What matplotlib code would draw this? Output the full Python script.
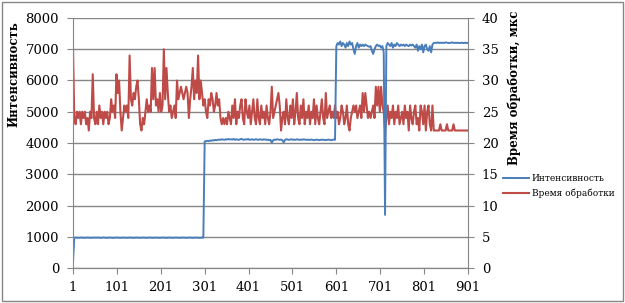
import numpy as np
import matplotlib
matplotlib.use("Agg")
import matplotlib.pyplot as plt
from matplotlib.patches import Rectangle

# sample numbers (every 3rd sample)
samples = np.arange(1, 902, 3)

# intensity, left axis
intensity = [
    200, 970, 975, 970, 965, 970, 975, 970, 970, 965, 970, 975, 970, 970, 965, 970, 975, 970, 970, 975,
    970, 965, 970, 975, 970, 970, 965, 970, 975, 970, 970, 965, 970, 975, 970, 970, 965, 970, 975, 970,
    970, 965, 970, 975, 970, 970, 965, 970, 975, 970, 970, 965, 970, 975, 970, 970, 965, 970, 975, 970,
    970, 965, 970, 975, 970, 970, 965, 970, 975, 970, 970, 965, 970, 975, 970, 970, 965, 970, 975, 970,
    970, 965, 970, 975, 970, 970, 965, 970, 975, 970, 970, 965, 970, 975, 970, 970, 965, 970, 975, 970,
    4050, 4060, 4070, 4060, 4080, 4070, 4090, 4080, 4100, 4090, 4100, 4110, 4100, 4120, 4110, 4100, 4120, 4110, 4130, 4110,
    4120, 4110, 4130, 4100, 4120, 4110, 4100, 4120, 4130, 4110, 4100, 4120, 4110, 4130, 4100, 4110, 4120, 4100, 4110, 4120,
    4110, 4100, 4120, 4110, 4100, 4120, 4110, 4100, 4110, 4090, 4100, 4010, 4090, 4110, 4100, 4120, 4110, 4100, 4110, 4090,
    4020, 4100, 4120, 4110, 4100, 4110, 4120, 4100, 4110, 4100, 4120, 4110, 4100, 4110, 4100, 4120, 4110, 4100, 4110, 4100,
    4100, 4110, 4100, 4090, 4100, 4110, 4100, 4090, 4100, 4110, 4100, 4100, 4090, 4100, 4110, 4100, 4090, 4100, 4110, 4100,
    7100, 7200, 7150, 7250, 7100, 7200, 7150, 7050, 7200, 7100, 7250, 7150, 7200, 7000, 6850, 7100, 7200, 7050, 7150, 7100,
    7150, 7100, 7150, 7120, 7100, 7080, 7100, 6950, 6850, 7000, 7100, 7150, 7100, 7120, 7050, 7100, 6900, 1700, 7100, 7200,
    7150, 7100, 7200, 7050, 7150, 7100, 7200, 7150, 7100, 7150, 7120, 7150, 7100, 7150, 7120, 7100, 7150, 7120, 7150, 7100,
    7050, 7150, 6950, 7100, 7000, 7150, 6900, 7100, 7150, 7000, 6950, 7100, 6900, 7150, 7200, 7210, 7200, 7220, 7200, 7210,
    7200, 7210, 7200, 7220, 7210, 7200, 7200, 7210, 7220, 7200, 7210, 7200, 7210, 7200, 7200, 7210, 7200, 7200, 7210, 7200,
    7200,
]

# processing time, us, right axis
proc_time = [
    35, 24, 23, 25, 24, 25, 23, 25, 24, 25, 23, 24, 22, 25, 24, 31, 24, 23, 25, 23,
    26, 24, 25, 23, 25, 24, 25, 23, 24, 27, 25, 26, 24, 31, 28, 30, 25, 22, 24, 26,
    25, 26, 24, 34, 27, 26, 28, 27, 29, 30, 27, 23, 22, 24, 23, 25, 27, 25, 26, 25,
    32, 27, 32, 26, 27, 25, 28, 25, 26, 35, 27, 32, 28, 25, 26, 24, 25, 26, 24, 30,
    27, 28, 29, 28, 27, 28, 29, 28, 24, 27, 29, 32, 27, 30, 28, 34, 27, 30, 28, 26,
    27, 25, 24, 27, 26, 28, 27, 25, 26, 28, 26, 27, 24, 23, 24, 23, 24, 23, 25, 24,
    23, 26, 24, 27, 23, 25, 24, 26, 27, 24, 23, 27, 25, 24, 26, 23, 25, 27, 24, 23,
    27, 24, 23, 26, 24, 25, 23, 26, 24, 23, 25, 29, 24, 25, 26, 27, 28, 26, 22, 24,
    25, 23, 27, 24, 23, 26, 24, 27, 23, 25, 28, 24, 23, 26, 24, 27, 23, 25, 24, 26,
    23, 25, 24, 27, 23, 26, 24, 23, 25, 27, 24, 23, 28, 24, 25, 26, 24, 25, 24, 26,
    24, 25, 23, 24, 26, 25, 23, 24, 26, 23, 22, 24, 25, 26, 25, 26, 24, 25, 26, 24,
    28, 25, 28, 26, 24, 25, 24, 25, 26, 24, 29, 26, 29, 25, 29, 26, 25, 22, 24, 26,
    23, 25, 24, 26, 23, 25, 24, 26, 23, 24, 25, 23, 26, 24, 25, 22, 26, 24, 23, 25,
    26, 23, 24, 22, 26, 25, 23, 26, 22, 25, 26, 23, 22, 26, 22, 22, 22, 22, 22, 23,
    22, 22, 22, 22, 23, 22, 22, 22, 22, 23, 22, 22, 22, 22, 22, 22, 22, 22, 22, 22,
    22,
]

x_ticks = [1, 101, 201, 301, 401, 501, 601, 701, 801, 901]

plt.rcParams['font.family'] = ['DejaVu Serif']
grey = '#868686'
blue = '#4A7EBB'
red = '#BE4B48'

fig = plt.figure(figsize=(6.25, 3.03), dpi=100)
ax = fig.add_axes([0.1168, 0.1155, 0.632, 0.8251])
ax2 = ax.twinx()
ax.set_zorder(2)
ax2.set_zorder(1)
ax.patch.set_visible(False)

ax2.plot(samples, proc_time, color=red, lw=1.5, label='Время обработки')
ax.plot(samples, intensity, color=blue, lw=1.4, label='Интенсивность')

ax.set_xlim(1, 901)
ax.set_ylim(0, 8000)
ax2.set_ylim(0, 40)
ax.set_xticks(x_ticks)
ax.set_yticks(range(0, 8001, 1000))
ax2.set_yticks(range(0, 41, 5))
ax2.yaxis.grid(True, color=grey, lw=1)
ax2.set_axisbelow(True)

for a in (ax, ax2):
    for s in a.spines.values():
        s.set_color(grey)
    a.spines['top'].set_visible(False)
ax.spines['right'].set_visible(False)
ax2.spines['left'].set_visible(False)

ax.tick_params(axis='x', colors=grey, length=4, pad=5, labelsize=9.5, labelcolor='black')
ax.tick_params(axis='y', colors=grey, length=4, pad=6, labelsize=9.5, labelcolor='black')
ax2.tick_params(axis='y', colors=grey, length=4, pad=6, labelsize=9.5, labelcolor='black')

ax.set_ylabel('Интенсивность', fontsize=8.5, fontweight='bold')
ax.yaxis.set_label_coords(-0.134, 0.776)
ax2.set_ylabel('Время обработки, мкс', fontsize=8.5, fontweight='bold')
ax2.yaxis.set_label_coords(1.1, 0.72)

h1, l1 = ax.get_legend_handles_labels()
h2, l2 = ax2.get_legend_handles_labels()
fig.legend(h1 + h2, l1 + l2, loc='center left', bbox_to_anchor=(0.797, 0.386),
           frameon=False, fontsize=6.5, handlelength=2.9, handletextpad=0.3,
           labelspacing=0.55, borderpad=0)

fig.add_artist(Rectangle((0.003, 0.005), 0.994, 0.99, transform=fig.transFigure,
                         fill=False, edgecolor=grey, lw=1))

fig.savefig('out.png', dpi=100)
